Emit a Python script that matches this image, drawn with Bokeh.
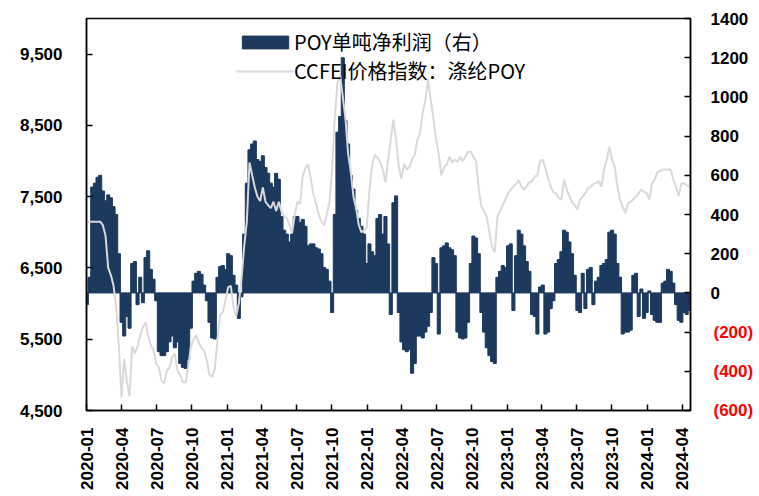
import pandas as pd
from bokeh.plotting import figure
from bokeh.models import (Range1d, LinearAxis, FixedTicker, NumeralTickFormatter,
                          DatetimeTickFormatter, Legend, LegendItem,
                          CustomJSTickFormatter)
from bokeh.embed import file_html
from bokeh.resources import INLINE

# ---------------- data (weekly readings) ----------------
first_date = "2020-01-01"
last_date = "2024-04-20"

profit = [
    -60, 80, 540, 560, 590, 600, 520, 470, 500, 485,
    440, 400, 200, -150, -220, -120, -180, 150, 160, -60,
    80, -50, 180, 215, 120, 70, -40, -300, -320, -320,
    -300, -250, -220, -280, -250, -360, -380, -385, -340, -180,
    60, 100, 110, 95, 40, -40, -150, -230, -235, 80,
    135, 140, 120, 200, 190, 90, 40, -130, -20, 300,
    560, 730, 760, 775, 680, 670, 700, 640, 610, 560,
    540, 610, 580, 390, 320, 300, 260, 300, 390, 390,
    360, 375, 340, 240, 250, 250, 230, 224, 200, 130,
    120, 60, -100, 400, 820, 900, 1200, 880, 760, 600,
    530, 420, 380, 340, 300, 150, 250, 210, 190, 380,
    400, 300, 390, 250, -110, 460, 495, -100, -250, -290,
    -300, -290, -410, -360, -220, -220, -230, -200, -170, -100,
    180, 150, -210, 230, 240, 255, 230, 220, 190, -200,
    -230, -235, -230, -150, 150, 290, 280, 200, -100, -200,
    -280, -320, -350, -360, 80, 110, 140, 130, 240, 250,
    -90, 190, 320, 300, 240, 160, 110, -110, -120, -210,
    30, 40, -210, -200, -80, -40, 150, 170, 210, 320,
    310, 260, 200, 90, -90, -100, 100, -80, 120, 130,
    -60, 60, 80, 140, 150, 170, 310, 320, 300, 150,
    80, -210, -200, -200, -190, 90, 100, -120, 20, -130,
    -100, 10, -110, -140, -150, -150, 50, 60, 120, 110,
    50, -60, -140, -150, -100, -110, -90,
]

price = [
    7150, 7150, 7150, 7150, 7150, 7150, 7100, 6950, 6500, 6400,
    6250, 5950, 5400, 4680, 5230, 4900, 4700, 5400, 5300, 5400,
    5550, 5670, 5740, 5550, 5420, 5350, 5160, 5100, 4920, 4880,
    5060, 5100, 5250, 5300, 5060, 5000, 4900, 4890, 5100, 5400,
    5500, 5550, 5450, 5380, 5340, 5200, 5000, 4970, 5090, 5500,
    5840, 5880, 6050, 6230, 6250, 5950, 5830, 6000, 6350, 6800,
    7150, 7980, 7800, 7630, 7500, 7440, 7630, 7430, 7380, 7340,
    7430, 7300, 7430, 7290, 7220, 7200, 7100, 7000, 7250, 7430,
    7400, 7800, 7900, 7950, 7750, 7530, 7400, 7250, 7150, 7100,
    7250, 7430, 7900, 8600, 9100, 9200, 8900, 8600, 8100, 7850,
    7500, 7340, 7100, 7000, 7030, 7060, 7600, 7940, 8090, 8050,
    7990, 7880, 7700, 8020, 8300, 8580, 8300, 7920, 7750, 7960,
    7880, 7920, 8020, 8090, 8300, 8400, 8680, 8860, 9150, 8860,
    8600, 8300, 8090, 7800, 7920, 7950, 8060, 7980, 8020, 7990,
    8060, 8000, 8060, 8130, 8130, 8060, 8000, 7600, 7360, 7300,
    7220, 7000, 6800, 6720, 7220, 7300, 7380, 7460, 7550, 7600,
    7640, 7680, 7730, 7640, 7600, 7650, 7700, 7720, 7780, 7800,
    8000, 8020, 7900, 7760, 7640, 7560, 7550, 7480, 7460, 7740,
    7600, 7510, 7420, 7380, 7320, 7460, 7500, 7550, 7620, 7640,
    7680, 7690, 7720, 7640, 7880, 8020, 8200, 8020, 7920, 7640,
    7460, 7360, 7270, 7410, 7430, 7460, 7500, 7550, 7600, 7570,
    7550, 7460, 7690, 7740, 7840, 7860, 7880, 7880, 7880, 7880,
    7740, 7640, 7510, 7690, 7690, 7660, 7640,
]

left_ticks = [4500, 5500, 6500, 7500, 8500, 9500]
right_pos_ticks = [0, 200, 400, 600, 800, 1000, 1200, 1400]
right_neg_ticks = [-600, -400, -200]
tick_months = pd.date_range("2020-01-01", "2024-04-01", freq="QS")

label_bar = "POY单吨净利润（右）"
label_line = "CCFEI价格指数：涤纶POY"

# ---------------- styling ----------------
NAVY = "#1C3A5E"
GREY = "#D9D9D9"
FONT = "Liberation Sans"
FS = "17px"

dates = pd.date_range(first_date, last_date, periods=len(profit))
DAY = 86400000.0

x_start = pd.Timestamp("2019-12-31")
x_end = pd.Timestamp("2024-04-23")

p = figure(width=759, height=496, x_axis_type="datetime",
           x_range=Range1d(x_start, x_end), y_range=Range1d(4500, 10000),
           output_backend="svg", toolbar_location=None,
           min_border_left=86, min_border_right=69,
           min_border_top=18, min_border_bottom=86)
p.extra_y_ranges = {"right": Range1d(-600, 1400)}
p.grid.visible = False
p.background_fill_color = "white"
p.border_fill_color = "white"
p.outline_line_color = "black"
p.outline_line_width = 1.5

bars = p.vbar(x=dates, top=profit, bottom=0, width=8.0 * DAY,
              y_range_name="right", fill_color=NAVY, line_color=NAVY,
              line_width=1)
line = p.line(x=dates, y=price, line_color=GREY, line_width=2)

# left axis
ya = p.yaxis[0]
ya.ticker = FixedTicker(ticks=left_ticks)
ya.formatter = NumeralTickFormatter(format="0,0")

# right axis: ticks for all, black labels for non-negative values
ra = LinearAxis(y_range_name="right",
                ticker=FixedTicker(ticks=right_pos_ticks + right_neg_ticks),
                formatter=CustomJSTickFormatter(
                    code="return tick < 0 ? '' : tick.toFixed(0);"))
p.add_layout(ra, "right")

# second right axis: red negative labels, pulled back over the first one
ra2 = LinearAxis(y_range_name="right",
                 ticker=FixedTicker(ticks=right_neg_ticks),
                 formatter=CustomJSTickFormatter(
                     code="return '(' + (-tick).toFixed(0) + ')';"))
p.add_layout(ra2, "right")

# bottom axis
xa = p.xaxis[0]
xa.ticker = FixedTicker(ticks=[t.value / 1e6 for t in tick_months])
fmt = "%Y-%m"
xa.formatter = DatetimeTickFormatter(
    microseconds=fmt, milliseconds=fmt, seconds=fmt, minsec=fmt,
    minutes=fmt, hourmin=fmt, hours=fmt, days=fmt, months=fmt, years=fmt)
xa.major_label_orientation = 1.5707963

for ax in (ya, ra, ra2, xa):
    ax.major_tick_in = 6
    ax.major_tick_out = 0
    ax.minor_tick_in = 0
    ax.minor_tick_out = 0
    ax.axis_line_color = "black"
    ax.axis_line_width = 1.5
    ax.major_tick_line_color = "black"
    ax.major_tick_line_width = 1.5
    ax.major_label_text_font = FONT
    ax.major_label_text_font_size = FS
    ax.major_label_text_font_style = "bold"
    ax.major_label_text_color = "black"
ra2.major_label_text_color = "#FF0000"
ra2.major_tick_in = 0
ra2.axis_line_alpha = 0
ra2.major_tick_line_alpha = 0
ya.major_label_standoff = 24
ra.major_label_standoff = 20
ra2.major_label_standoff = -38
xa.major_label_standoff = 17

legend = Legend(items=[LegendItem(label=label_bar, renderers=[bars]),
                       LegendItem(label=label_line, renderers=[line])],
                location=(150, 325), orientation="vertical",
                glyph_width=58, glyph_height=16, label_height=20,
                spacing=-2, padding=0, margin=0, label_standoff=0,
                border_line_alpha=0, background_fill_alpha=0,
                label_text_font="Noto Sans CJK SC",
                label_text_font_size="20px", label_text_font_style="normal",
                label_text_color="black")
p.add_layout(legend)

open("out.html", "w").write(file_html(p, INLINE))
